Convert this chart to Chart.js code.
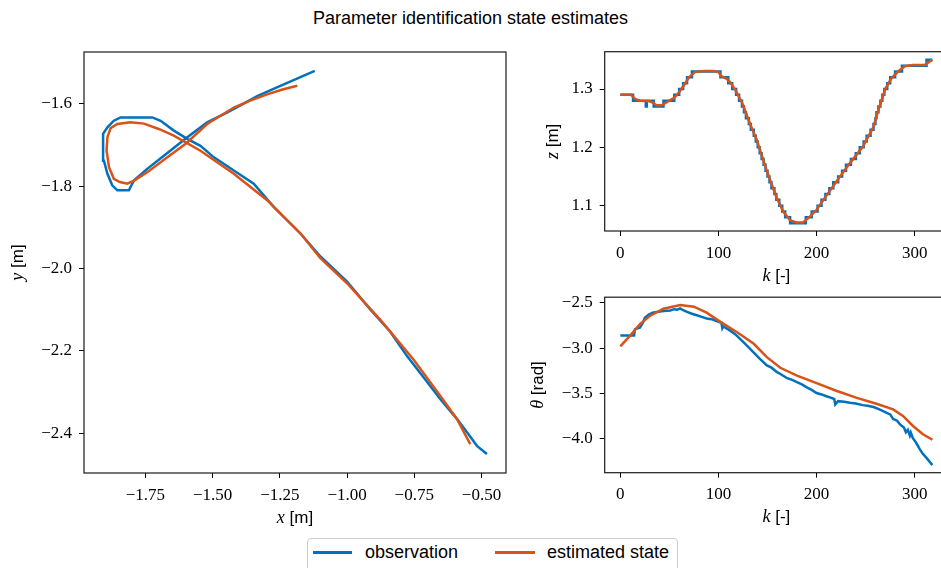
<!DOCTYPE html>
<html>
<head>
<meta charset="utf-8">
<script src="https://cdn.jsdelivr.net/npm/chart.js@4"></script>
<style>
  body { margin: 0; width: 941px; height: 568px; overflow: hidden; background: #fff; position: relative; }
  canvas { position: absolute; }
  #title { position: absolute; left: 0; top: 7px; width: 941px; text-align: center;
           font: 18px "Liberation Sans", sans-serif; line-height: 22px; color: #000; }
  #legend { position: absolute; left: 307px; top: 538px; width: 371px; height: 40px; box-sizing: border-box;
            border: 1px solid #ccc; border-radius: 4px; background: #fff; font: 18px "Liberation Sans", sans-serif; }
  #legend span { position: absolute; }
  #legend .sw { height: 2.5px; top: 12px; }
  #legend .lab { top: 2px; line-height: 22px; color: #000; }
</style>
</head>
<body>
<div id="title">Parameter identification state estimates</div>
<canvas id="xy" width="520" height="540" style="left:0;top:0"></canvas>
<canvas id="zk" width="441" height="290" style="left:520px;top:0"></canvas>
<canvas id="thk" width="441" height="288" style="left:520px;top:280px"></canvas>
<div id="legend">
  <span class="sw" style="left:5px;width:39px;background:#0072BD"></span>
  <span class="lab" style="left:57px">observation</span>
  <span class="sw" style="left:187px;width:40px;background:#D95319"></span>
  <span class="lab" style="left:239px">estimated state</span>
</div>
<script>
const blue = "#0072BD";
const orange = "#D95319";

// x-y trajectory (m)
const obsX = [-1.12, -1.25, -1.334, -1.40, -1.445, -1.52, -1.594, -1.681, -1.743, -1.792, -1.805, -1.811, -1.854, -1.873, -1.891, -1.904, -1.907, -1.907, -1.891, -1.867, -1.842, -1.724, -1.693, -1.644, -1.594, -1.545, -1.495, -1.421, -1.347, -1.272, -1.173, -1.099, -1.0, -0.913, -0.84, -0.777, -0.715, -0.653, -0.591, -0.554, -0.517, -0.48];
const obsY = [-1.52, -1.557, -1.581, -1.605, -1.621, -1.645, -1.681, -1.726, -1.758, -1.786, -1.802, -1.81, -1.81, -1.798, -1.77, -1.738, -1.73, -1.673, -1.657, -1.641, -1.633, -1.633, -1.641, -1.665, -1.685, -1.702, -1.73, -1.762, -1.794, -1.851, -1.915, -1.971, -2.032, -2.10, -2.153, -2.213, -2.265, -2.318, -2.366, -2.398, -2.431, -2.451];
const estX = [-1.185, -1.24, -1.297, -1.36, -1.421, -1.52, -1.60, -1.668, -1.743, -1.79, -1.817, -1.845, -1.867, -1.885, -1.894, -1.891, -1.879, -1.854, -1.805, -1.755, -1.70, -1.644, -1.545, -1.421, -1.297, -1.173, -1.099, -1.0, -0.876, -0.753, -0.653, -0.591, -0.542];
const estY = [-1.556, -1.565, -1.577, -1.592, -1.609, -1.649, -1.697, -1.730, -1.766, -1.786, -1.794, -1.790, -1.782, -1.754, -1.714, -1.681, -1.659, -1.649, -1.645, -1.648, -1.661, -1.677, -1.714, -1.770, -1.834, -1.915, -1.975, -2.036, -2.125, -2.221, -2.31, -2.366, -2.427];

// z over k (m), observation is quantized -> value holds until the next k
const obsKz = [0, 13, 26, 27, 34, 44, 55, 60, 64, 68, 73, 102, 110, 114, 118, 121, 124, 126, 128, 131, 133, 136, 138, 140, 142, 144, 146, 148, 150, 152, 154, 157, 159, 162, 165, 168, 173, 189, 195, 201, 205, 209, 213, 217, 222, 226, 230, 235, 240, 244, 248, 251, 255, 258, 260, 261, 263, 265, 267, 269, 272, 275, 280, 287, 312, 318];
const obsZ = [1.29, 1.28, 1.27, 1.28, 1.27, 1.28, 1.29, 1.30, 1.31, 1.32, 1.33, 1.32, 1.31, 1.30, 1.29, 1.28, 1.27, 1.26, 1.25, 1.24, 1.23, 1.22, 1.21, 1.20, 1.19, 1.18, 1.17, 1.16, 1.15, 1.14, 1.13, 1.12, 1.11, 1.10, 1.09, 1.08, 1.07, 1.08, 1.09, 1.10, 1.11, 1.12, 1.13, 1.14, 1.15, 1.16, 1.17, 1.18, 1.19, 1.20, 1.21, 1.22, 1.23, 1.24, 1.25, 1.26, 1.27, 1.28, 1.29, 1.30, 1.31, 1.32, 1.33, 1.34, 1.35, 1.35];
const estKz = [0, 11, 15, 20, 30, 34, 37, 42, 46, 50, 55, 60, 65, 70, 76, 85, 95, 100, 103, 108, 112, 118, 125, 132, 139, 149, 159, 166, 173, 180, 186, 193, 200, 207, 220, 234, 247, 258, 264, 270, 276, 283, 290, 298, 310, 315, 318];
const estZ = [1.29, 1.29, 1.283, 1.28, 1.279, 1.276, 1.272, 1.272, 1.276, 1.28, 1.285, 1.295, 1.307, 1.32, 1.329, 1.331, 1.331, 1.329, 1.322, 1.318, 1.312, 1.296, 1.273, 1.241, 1.213, 1.161, 1.115, 1.09, 1.075, 1.071, 1.071, 1.081, 1.093, 1.11, 1.141, 1.173, 1.201, 1.235, 1.27, 1.30, 1.318, 1.33, 1.339, 1.341, 1.341, 1.347, 1.35];

// theta over k (rad)
const obsKt = [0, 14, 15, 20, 23, 25, 29, 33, 37, 44, 51, 55, 58, 61, 63, 68, 73, 78, 83, 88, 93, 98, 103, 104, 105, 112, 117, 122, 127, 132, 137, 142, 149, 154, 159, 164, 170, 175, 180, 185, 190, 195, 200, 205, 210, 215, 218, 219, 222, 228, 234, 240, 247, 252, 258, 264, 271, 275, 278, 282, 285, 289, 291, 293, 295, 296, 298, 300, 302, 305, 308, 312, 315, 318];
const obsT = [-2.861, -2.861, -2.79, -2.775, -2.72, -2.665, -2.63, -2.61, -2.60, -2.59, -2.585, -2.57, -2.575, -2.562, -2.575, -2.60, -2.62, -2.637, -2.655, -2.673, -2.68, -2.70, -2.72, -2.78, -2.76, -2.807, -2.845, -2.897, -2.95, -3.006, -3.06, -3.114, -3.187, -3.215, -3.259, -3.29, -3.331, -3.35, -3.375, -3.40, -3.432, -3.46, -3.494, -3.51, -3.53, -3.548, -3.56, -3.62, -3.584, -3.59, -3.602, -3.61, -3.628, -3.635, -3.649, -3.675, -3.711, -3.73, -3.78, -3.80, -3.84, -3.874, -3.928, -3.90, -3.964, -3.93, -3.99, -4.02, -4.054, -4.11, -4.162, -4.21, -4.25, -4.289];
const estKt = [0, 10, 20, 30, 44, 61, 75, 88, 102, 119, 136, 149, 163, 180, 200, 220, 241, 261, 278, 288, 298, 308, 318];
const estT = [-2.98, -2.861, -2.735, -2.645, -2.565, -2.525, -2.543, -2.608, -2.71, -2.825, -2.952, -3.096, -3.216, -3.302, -3.385, -3.469, -3.548, -3.613, -3.675, -3.747, -3.855, -3.946, -4.01];

// tick labels
const xTicks = [-1.75, -1.5, -1.25, -1.0, -0.75, -0.5];
const yTicks = [-2.4, -2.2, -2.0, -1.8, -1.6];
const kTicks = [0, 100, 200, 300];
const zTicks = [1.1, 1.2, 1.3];
const tTicks = [-4.0, -3.5, -3.0, -2.5];

const pts = (xs, ys) => xs.map((x, i) => ({ x: x, y: ys[i] }));

function drawLabel(ctx, parts, cx, cy, rot) {
  const fonts = ['italic 18px "Liberation Serif"', '17px "Liberation Sans"'];
  ctx.save();
  ctx.translate(cx, cy);
  ctx.rotate(rot);
  let w = 0;
  parts.forEach((p, i) => { ctx.font = fonts[i]; w += ctx.measureText(p).width; });
  let x = -w / 2;
  ctx.textBaseline = 'middle';
  ctx.fillStyle = '#000';
  parts.forEach((p, i) => { ctx.font = fonts[i]; ctx.fillText(p, x, 0); x += ctx.measureText(p).width; });
  ctx.restore();
}

// box around the axes + mixed-font axis labels
const frame = {
  id: 'frame',
  afterDraw(chart, args, opts) {
    const { ctx, chartArea: a } = chart;
    ctx.save();
    ctx.strokeStyle = '#1a1a1a';
    ctx.lineWidth = 1.2;
    ctx.strokeRect(a.left, a.top, a.right - a.left, a.bottom - a.top);
    ctx.restore();
    drawLabel(ctx, opts.x, (a.left + a.right) / 2, a.bottom + 45, 0);
    drawLabel(ctx, opts.y, a.left - opts.yOff, (a.top + a.bottom) / 2, -Math.PI / 2);
  }
};

function axis(ticks, digits, extra) {
  return Object.assign({
    type: 'linear',
    afterBuildTicks: s => { s.ticks = ticks.map(v => ({ value: v })); },
    grid: { drawOnChartArea: false, drawTicks: true, tickLength: 5, color: '#000', lineWidth: 1 },
    border: { display: false },
    ticks: {
      color: '#000', padding: 7, autoSkip: false, maxRotation: 0,
      font: { family: '"Liberation Serif"', size: 17 },
      callback: v => (v < 0 ? '\u2212' : '') + Math.abs(v).toFixed(digits)
    }
  }, extra);
}

// order: estimate (0) is painted over the observation (1)
function line(data, color, order, extra) {
  return Object.assign({ data: data, borderColor: color, borderWidth: 2.5, pointRadius: 0,
    showLine: true, fill: false, tension: 0, order: order }, extra);
}

function makeChart(id, datasets, scales, padding, labels) {
  return new Chart(document.getElementById(id), {
    type: 'scatter',
    data: { datasets: datasets },
    options: {
      responsive: false,
      animation: false,
      layout: { padding: padding },
      scales: scales,
      plugins: { legend: { display: false }, tooltip: { enabled: false }, frame: labels }
    },
    plugins: [frame]
  });
}

makeChart('xy',
  [line(pts(obsX, obsY), blue, 1), line(pts(estX, estY), orange, 0)],
  {
    x: axis(xTicks, 2, { min: -1.978, max: -0.409, afterFit: s => { s.height = 50; } }),
    y: axis(yTicks, 1, { min: -2.497, max: -1.474, afterFit: s => { s.width = 70; } })
  },
  { left: 14, top: 52, right: 14, bottom: 17 },
  { x: ['x', ' [m]'], y: ['y', ' [m]'], yOff: 66 });

makeChart('zk',
  [line(pts(obsKz, obsZ), blue, 1, { stepped: 'before' }), line(pts(estKz, estZ), orange, 0)],
  {
    x: axis(kTicks, 0, { min: -15.9, max: 333.9, afterFit: s => { s.height = 50; } }),
    y: axis(zTicks, 1, { min: 1.0566, max: 1.364, afterFit: s => { s.width = 70; } })
  },
  { left: 14.7, top: 51.7, right: 13, bottom: 9 },
  { x: ['k', ' [-]'], y: ['z', ' [m]'], yOff: 51 });

makeChart('thk',
  [line(pts(obsKt, obsT), blue, 1), line(pts(estKt, estT), orange, 0)],
  {
    x: axis(kTicks, 0, { min: -15.9, max: 333.9, afterFit: s => { s.height = 50; } }),
    y: axis(tTicks, 1, { min: -4.373, max: -2.438, afterFit: s => { s.width = 70; } })
  },
  { left: 14.7, top: 14.3, right: 13, bottom: 45.3 },
  { x: ['k', ' [-]'], y: ['\u03b8', ' [rad]'], yOff: 66 });
</script>
</body>
</html>
